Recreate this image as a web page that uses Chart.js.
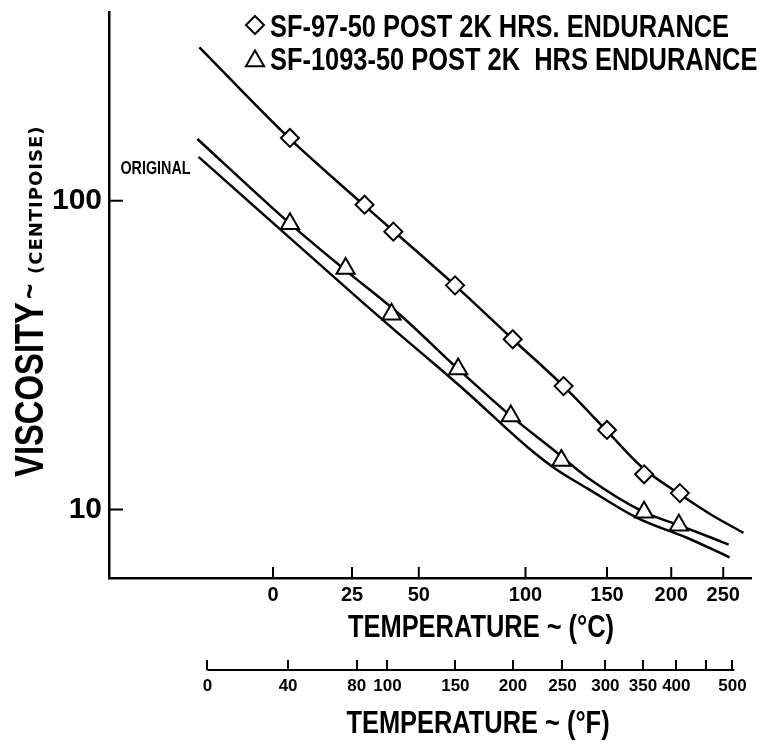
<!DOCTYPE html>
<html>
<head>
<meta charset="utf-8">
<title>Viscosity vs temperature</title>
<script src="https://cdn.jsdelivr.net/npm/chart.js@4.4.1/dist/chart.umd.min.js"></script>
<style>
  html, body { margin: 0; padding: 0; background: #fff; }
  canvas { display: block; }
</style>
</head>
<body>
<canvas id="viscChart" width="764" height="742"></canvas>
<script>
// ==============================
// Data (temperatures in °C, viscosity in centipoise)
// ==============================
const seriesNames = ["SF-97-50 POST 2K HRS. ENDURANCE", "SF-1093-50 POST 2K  HRS ENDURANCE", "ORIGINAL"];

// faired curves
const sf97CurveT = [-19.8, 4.7, 29.0, 65.4, 93.2, 122.4, 148.8, 175.9, 207.6, 238.0, 272.5];
const sf97CurveV = [314, 159.7, 97.1, 53.2, 35.6, 24.9, 18.2, 13.7, 11.2, 9.6, 8.4];
const sf1093CurveT = [-20.3, 5.0, 22.8, 41.9, 66.8, 92.2, 116.4, 136.8, 177.5, 206.7, 255.8];
const sf1093CurveV = [158.5, 84.3, 59.5, 43.2, 28.5, 20.1, 15.5, 12.7, 9.8, 8.9, 7.7];
const origCurveT = [-20.0, 28.3, 41.9, 57.6, 71.3, 101.2, 116.4, 136.8, 172.0, 214.0, 256.9];
const origCurveV = [138.7, 47.2, 37.2, 29.1, 23.8, 15.9, 13.6, 11.7, 9.4, 8.1, 7.0];

// measured points
const sf97PtsT = [5.0, 29.4, 40.0, 65.4, 93.2, 121.8, 150.0, 177.5, 207.6];
const sf97PtsV = [159.7, 97.1, 79.4, 53.2, 35.6, 25.1, 18.1, 13.0, 11.3];
const sf1093PtsT = [5.0, 22.8, 39.3, 66.8, 92.2, 120.5, 177.5, 206.7];
const sf1093PtsV = [84.3, 60.3, 42.9, 28.5, 20.1, 14.4, 9.8, 8.9];

// axes
const cTicks = [0, 25, 50, 100, 150, 200, 250];
const fTicks = [0, 40, 80, 100, 150, 200, 250, 300, 350, 400, 450, 500];
const fUnlabelled = [450];
const yTicks = [10, 100];
const tempRangeC = [-40.5, 281.9];
const viscRange = [6.0, 407];
const cTitle = "TEMPERATURE ~ (°C)";
const fTitle = "TEMPERATURE ~ (°F)";

const FONT = "'Liberation Sans', Arial, sans-serif";
const NARROW = 0.82; // squeeze factor to mimic a condensed face

function toPoints(xs, ys) {
    return xs.map((x, i) => ({ x: x, y: ys[i] }));
}

function cToF(c) {
    return c * 1.8 + 32;
}

// ==============================
// Reciprocal absolute temperature scale (1/T)
// ==============================
class ReciprocalScale extends Chart.LinearScale {
    kelvin(v) {
        return this.id === "xF" ? (v - 32) / 1.8 + 273.15 : v + 273.15;
    }
    getPixelForValue(v) {
        const a = 1 / this.kelvin(this.min);
        const b = 1 / this.kelvin(this.max);
        return this.getPixelForDecimal((a - 1 / this.kelvin(v)) / (a - b));
    }
    getValueForPixel(p) {
        const a = 1 / this.kelvin(this.min);
        const b = 1 / this.kelvin(this.max);
        const k = 1 / (a - this.getDecimalForPixel(p) * (a - b));
        return this.id === "xF" ? (k - 273.15) * 1.8 + 32 : k - 273.15;
    }
}
ReciprocalScale.id = "reciprocal";
ReciprocalScale.defaults = Chart.LinearScale.defaults;
Chart.register(ReciprocalScale);

function noPadding(s) {
    s.paddingTop = 0;
    s.paddingBottom = 0;
    s.paddingLeft = 0;
    s.paddingRight = 0;
}

// ==============================
// Extra drawing: inner ticks, °F axis line, legend, titles
// ==============================
function narrowText(ctx, text, x, y, align, size) {
    ctx.save();
    ctx.translate(x, y);
    ctx.scale(NARROW, 1);
    ctx.font = "bold " + size + "px " + FONT;
    ctx.textAlign = align;
    ctx.textBaseline = "alphabetic";
    ctx.fillText(text, 0, 0);
    ctx.restore();
}

const decorations = {
    id: "decorations",
    afterDraw(chart) {
        const ctx = chart.ctx;
        const area = chart.chartArea;
        const x = chart.scales.x;
        const xF = chart.scales.xF;
        const y = chart.scales.y;

        function line(x1, y1, x2, y2) {
            ctx.beginPath();
            ctx.moveTo(x1, y1);
            ctx.lineTo(x2, y2);
            ctx.stroke();
        }

        ctx.save();
        ctx.strokeStyle = "#000";
        ctx.fillStyle = "#000";
        ctx.lineWidth = 2;

        // ticks pointing into the plot
        x.ticks.forEach(t => {
            const px = x.getPixelForValue(t.value);
            line(px, area.bottom, px, area.bottom - 11);
        });
        y.ticks.forEach(t => {
            const py = y.getPixelForValue(t.value);
            line(area.left, py, area.left + 14, py);
        });

        // °F axis line under its ticks
        const fy = xF.top + 10;
        line(xF.getPixelForValue(fTicks[0]), fy, xF.getPixelForValue(fTicks[fTicks.length - 1]) + 2, fy);

        // axis titles
        narrowText(ctx, cTitle, 481, 637, "center", 31);
        narrowText(ctx, fTitle, 478, 733, "center", 31);

        // legend
        const legendItems = [
            { style: "rectRot", radius: 9, cy: 25, base: 37 },
            { style: "triangle", radius: 10.5, cy: 61, base: 70 }
        ];
        legendItems.forEach((item, i) => {
            ctx.fillStyle = "#fff";
            ctx.strokeStyle = "#000";
            Chart.helpers.drawPoint(ctx, { pointStyle: item.style, radius: item.radius, borderWidth: 2 }, 255, item.cy);
            ctx.fillStyle = "#000";
            narrowText(ctx, seriesNames[i], 270, item.base, "left", 31);
        });

        // label at the start of the original fluid curve
        const origStart = chart.getDatasetMeta(2).data[0];
        narrowText(ctx, seriesNames[2], origStart.x - 8, origStart.y + 17, "right", 17.5);

        // y axis title, mixed sizes
        ctx.translate(0, 477);
        ctx.rotate(-Math.PI / 2);
        narrowText(ctx, "VISCOSITY", 0, 43, "left", 40);
        narrowText(ctx, "~", 178, 40, "left", 32);
        ctx.font = "bold 18px 'DejaVu Sans', sans-serif";
        ctx.textAlign = "left";
        ctx.letterSpacing = "1px";
        ctx.fillText("(CENTIPOISE)", 203, 42);
        ctx.restore();
    }
};

// ==============================
// Chart
// ==============================
const curveStyle = {
    type: "line",
    showLine: true,
    borderColor: "#000",
    borderWidth: 2.5,
    pointRadius: 0,
    cubicInterpolationMode: "monotone",
    order: 2
};

const markerStyle = {
    type: "line",
    showLine: false,
    borderColor: "#000",
    backgroundColor: "#fff",
    pointBorderWidth: 2,
    order: 1
};

new Chart(document.getElementById("viscChart"), {
    type: "scatter",
    data: {
        datasets: [
            Object.assign({ label: seriesNames[0], data: toPoints(sf97CurveT, sf97CurveV) }, curveStyle),
            Object.assign({ label: seriesNames[1], data: toPoints(sf1093CurveT, sf1093CurveV) }, curveStyle),
            Object.assign({ label: seriesNames[2], data: toPoints(origCurveT, origCurveV) }, curveStyle),
            Object.assign({ label: seriesNames[0] + " points", data: toPoints(sf97PtsT, sf97PtsV),
                pointStyle: "rectRot", pointRadius: 9 }, markerStyle),
            Object.assign({ label: seriesNames[1] + " points", data: toPoints(sf1093PtsT, sf1093PtsV),
                pointStyle: "triangle", pointRadius: 10.5 }, markerStyle)
        ]
    },
    options: {
        responsive: false,
        animation: false,
        layout: { padding: { top: 10, right: 9, left: 0, bottom: 0 } },
        plugins: {
            legend: { display: false },
            tooltip: { enabled: false }
        },
        scales: {
            x: {
                type: "reciprocal",
                position: "bottom",
                min: tempRangeC[0],
                max: tempRangeC[1],
                afterBuildTicks: s => { s.ticks = cTicks.map(v => ({ value: v })); },
                afterFit: s => { s.height = 82; noPadding(s); },
                grid: { display: false, drawTicks: false },
                border: { display: true, color: "#000", width: 2.5 },
                ticks: {
                    autoSkip: false,
                    maxRotation: 0,
                    padding: 5,
                    color: "#000",
                    font: { family: FONT, weight: "bold", size: 20 },
                    callback: v => String(v)
                }
            },
            xF: {
                type: "reciprocal",
                position: "bottom",
                min: cToF(tempRangeC[0]),
                max: cToF(tempRangeC[1]),
                afterBuildTicks: s => { s.ticks = fTicks.map(v => ({ value: v })); },
                afterFit: s => { s.height = 82; noPadding(s); },
                grid: { display: true, drawOnChartArea: false, drawTicks: true, tickLength: 10, color: "#000", lineWidth: 2 },
                border: { display: false },
                ticks: {
                    autoSkip: false,
                    maxRotation: 0,
                    padding: 6,
                    color: "#000",
                    font: { family: FONT, weight: "bold", size: 17 },
                    callback: v => fUnlabelled.includes(v) ? "" : String(v)
                }
            },
            y: {
                type: "logarithmic",
                min: viscRange[0],
                max: viscRange[1],
                afterBuildTicks: s => { s.ticks = yTicks.map(v => ({ value: v })); },
                afterFit: s => { s.width = 109; noPadding(s); },
                grid: { display: false, drawTicks: false },
                border: { display: true, color: "#000", width: 2.5 },
                ticks: {
                    padding: 7,
                    color: "#000",
                    font: { family: FONT, weight: "bold", size: 30 },
                    callback: v => String(v)
                }
            }
        }
    },
    plugins: [decorations]
});
</script>
</body>
</html>
